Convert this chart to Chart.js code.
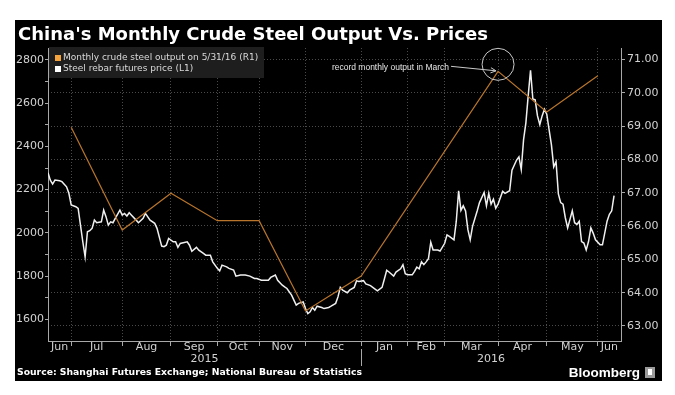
<!DOCTYPE html>
<html>
<head>
<meta charset="utf-8">
<script src="https://cdn.jsdelivr.net/npm/chart.js@4.4.1/dist/chart.umd.min.js"></script>
<style>
  html, body { margin: 0; padding: 0; background: #fff; }
</style>
</head>
<body>
<canvas id="myChart" width="675" height="395"></canvas>
<script>
const months = ["Jun", "Jul", "Aug", "Sep", "Oct", "Nov", "Dec", "Jan", "Feb", "Mar", "Apr", "May", "Jun"];
// trading days shown for each month (first and last are partial)
const monthDays = [10, 22, 21, 20, 18, 20, 24, 20, 16, 23, 21, 22, 10];
const years = ["2015", "2016"];
const yearFirstMonth = [0, 7];

const leftTicks = [1600, 1700, 1800, 1900, 2000, 2100, 2200, 2300, 2400, 2500, 2600, 2700, 2800];
const rightTicks = [63, 64, 65, 66, 67, 68, 69, 70, 71];

// steel rebar futures price (L1), by trading day
const priceDays = [0,1,2,3,5,6,8,9,10,12,13,14,15,16,17,18,19,20,21,23,24,25,26,27,28,29,31,32,33,34,35,36,38,39,41,42,44,46,47,49,
  50,51,52,54,55,56,57,60,61,62,64,65,67,68,70,71,73,74,75,77,78,80,81,83,85,87,89,90,92,93,95,96,98,99,
  101,102,103,105,106,107,108,110,111,112,113,114,115,116,118,119,121,122,124,125,126,127,129,130,132,133,134,136,137,139,
  141,142,144,145,146,147,149,150,152,153,154,155,157,158,159,160,161,162,163,164,165,166,168,169,171,172,173,175,176,177,
  178,179,180,181,182,183,185,186,188,189,190,191,192,193,194,196,197,199,200,202,203,204,205,206,207,208,209,210,211,212,
  213,214,215,216,217,218,219,220,221,222,223,224,226,227,228,229,230,231,232,233,234,235,236,238,239,241,242,243,244];
const prices = [2278,2244,2226,2244,2241,2237,2213,2183,2129,2121,2113,2036,1959,1889,2005,2010,2021,2059,2047,2051,2105,2075,2036,2051,2047,2067,2105,2082,2090,2078,2093,2082,2059,2047,2067,2090,2059,2044,2021,1939,
  1936,1943,1974,1959,1959,1933,1951,1959,1943,1915,1933,1920,1905,1897,1897,1866,1836,1824,1851,1843,1836,1828,1800,1805,1805,1800,1789,1789,1781,1781,1781,1794,1805,1781,
  1758,1750,1743,1712,1689,1666,1674,1681,1650,1627,1635,1655,1642,1661,1655,1650,1655,1661,1674,1704,1748,1735,1723,1735,1748,1778,1775,1779,1764,1756,
  1740,1732,1748,1787,1827,1819,1800,1819,1834,1853,1811,1806,1806,1822,1842,1834,1866,1853,1866,1881,1957,1921,1921,1916,1952,1991,1984,1968,2054,2195,
  2104,2125,2101,2015,1968,2030,2101,2140,2187,2125,2183,2133,2156,2114,2133,2192,2183,2195,2290,2337,2352,2293,2431,2509,2635,2752,2619,2615,2541,2501,
  2541,2572,2549,2478,2408,2305,2329,2180,2140,2133,2070,2023,2102,2047,2039,2054,1960,1953,1921,1960,2023,1999,1968,1945,1945,2054,2086,2102,2172];

// monthly crude steel output (R1), plotted at month end
const outputMonthIndex = [0, 1, 2, 3, 4, 5, 6, 9, 10, 11];
const outputValues = [68.96, 65.88, 66.98, 66.16, 66.16, 63.45, 64.5, 70.64, 69.42, 70.51];

const labelOutput = "Monthly crude steel output on 5/31/16 (R1)";
const labelPrice = "Steel rebar futures price (L1)";
const noteText = "record monthly output in March";
const noteIndex = 7;

const monthEnds = [];
monthDays.reduce((acc, d) => { monthEnds.push(acc + d); return acc + d; }, 0);
const totalDays = monthEnds[monthEnds.length - 1];

const axisFont = { family: "DejaVu Sans", size: 11 };
const axisText = "#d2d2d2";
const gridColor = "#4a4a4a";
const lineGray = "#a8a8a8";

const decorations = {
    id: "decorations",
    beforeDraw(chart) {
        const ctx = chart.ctx;
        ctx.save();
        ctx.fillStyle = "#fff";
        ctx.fillRect(0, 0, chart.width, chart.height);
        ctx.fillStyle = "#000";
        ctx.fillRect(15, 20, 647, 361);
        ctx.restore();
    },
    afterDraw(chart) {
        const ctx = chart.ctx;
        const x = chart.scales.x;
        ctx.save();

        // title
        ctx.fillStyle = "#fff";
        ctx.font = "bold 18px 'DejaVu Sans'";
        ctx.textBaseline = "alphabetic";
        ctx.textAlign = "left";
        ctx.fillText("China's Monthly Crude Steel Output Vs. Prices", 18, 40);

        // legend
        ctx.fillStyle = "#1e1e1e";
        ctx.fillRect(49, 47, 215, 31);
        ctx.font = "9px 'DejaVu Sans'";
        ctx.textBaseline = "middle";
        [[labelOutput, "#f5a33c"], [labelPrice, "#ffffff"]].forEach((item, i) => {
            const cy = 58 + i * 11;
            ctx.fillStyle = item[1];
            ctx.fillRect(55, cy - 3, 6, 6);
            ctx.fillStyle = "#dadada";
            ctx.fillText(item[0], 63, cy);
        });

        // month and year labels
        ctx.fillStyle = axisText;
        ctx.font = "11px 'DejaVu Sans'";
        ctx.textAlign = "center";
        let start = 0;
        months.forEach((m, i) => {
            const mid = (start + monthEnds[i]) / 2;
            ctx.fillText(m, x.getPixelForValue(mid), 347);
            start = monthEnds[i];
        });
        years.forEach((y, i) => {
            const a = yearFirstMonth[i] === 0 ? 0 : monthEnds[yearFirstMonth[i] - 1];
            const b = i + 1 < years.length ? monthEnds[yearFirstMonth[i + 1] - 1] : totalDays;
            ctx.fillText(y, x.getPixelForValue((a + b) / 2), 359);
        });
        const sep = Math.round(x.getPixelForValue(monthEnds[yearFirstMonth[1] - 1])) + 0.5;
        ctx.strokeStyle = lineGray;
        ctx.lineWidth = 1;
        ctx.beginPath();
        ctx.moveTo(sep, 349);
        ctx.lineTo(sep, 366);
        ctx.stroke();

        // source and logo
        ctx.textAlign = "left";
        ctx.fillStyle = "#fff";
        ctx.font = "bold 9.25px 'DejaVu Sans'";
        ctx.fillText("Source: Shanghai Futures Exchange; National Bureau of Statistics", 17, 373);
        ctx.font = "bold 13.5px 'Liberation Sans'";
        ctx.textAlign = "right";
        ctx.fillText("Bloomberg", 640, 373);
        ctx.fillStyle = "#9a9a9a";
        ctx.fillRect(645, 367, 10, 11);
        ctx.fillStyle = "#fff";
        ctx.fillRect(648, 369, 4, 6);

        // annotation on March output
        const pt = chart.getDatasetMeta(0).data[noteIndex];
        ctx.strokeStyle = "#c8c8c8";
        ctx.beginPath();
        ctx.arc(pt.x, pt.y - 7, 16, 0, Math.PI * 2);
        ctx.stroke();
        ctx.fillStyle = "#e6e6e6";
        ctx.font = "8.5px 'Liberation Sans'";
        ctx.textAlign = "right";
        ctx.fillText(noteText, pt.x - 49, pt.y - 4);
        const ax = pt.x - 47, ay = pt.y - 5, bx = pt.x - 2, by = pt.y - 0.5;
        ctx.beginPath();
        ctx.moveTo(ax, ay);
        ctx.lineTo(bx, by);
        ctx.stroke();
        const ang = Math.atan2(by - ay, bx - ax);
        ctx.beginPath();
        ctx.moveTo(bx - 6 * Math.cos(ang - 0.45), by - 6 * Math.sin(ang - 0.45));
        ctx.lineTo(bx, by);
        ctx.lineTo(bx - 6 * Math.cos(ang + 0.45), by - 6 * Math.sin(ang + 0.45));
        ctx.stroke();

        ctx.restore();
    }
};

var ctx = document.getElementById("myChart").getContext("2d");
var myChart = new Chart(ctx, {
    type: "line",
    data: {
        datasets: [
            {
                label: labelOutput,
                data: outputMonthIndex.map((m, i) => ({ x: monthEnds[m], y: outputValues[i] })),
                borderColor: "#b9752b",
                borderWidth: 1.2,
                yAxisID: "yR",
                pointRadius: 0,
                tension: 0
            },
            {
                label: labelPrice,
                data: priceDays.map((d, i) => ({ x: d, y: prices[i] })),
                borderColor: "#f0f0f0",
                borderWidth: 1.5,
                yAxisID: "yL",
                pointRadius: 0,
                tension: 0
            }
        ]
    },
    options: {
        responsive: false,
        animation: false,
        layout: { padding: { top: 48, left: 0, right: 0, bottom: 0 } },
        plugins: { legend: { display: false }, tooltip: { enabled: false } },
        scales: {
            x: {
                type: "linear",
                min: 0,
                max: totalDays,
                afterBuildTicks: s => { s.ticks = monthEnds.slice(0, -1).map(v => ({ value: v })); },
                afterFit: s => { s.height = 54; },
                ticks: { display: false },
                grid: { color: gridColor, tickColor: lineGray, tickLength: 5 },
                border: { color: lineGray, dash: [1, 2] }
            },
            yL: {
                position: "left",
                min: 1500,
                max: 2855,
                afterBuildTicks: s => { s.ticks = leftTicks.map(v => ({ value: v })); },
                afterFit: s => { s.width = 48; },
                ticks: {
                    callback: v => (v % 200 === 0 ? String(v) : ""),
                    color: axisText,
                    font: axisFont,
                    padding: 1
                },
                grid: { drawOnChartArea: false, tickLength: 3, tickColor: lineGray },
                border: { color: lineGray }
            },
            yR: {
                position: "right",
                min: 62.55,
                max: 71.34,
                afterBuildTicks: s => { s.ticks = rightTicks.map(v => ({ value: v })); },
                afterFit: s => { s.width = 54; },
                ticks: {
                    callback: v => v.toFixed(2),
                    color: axisText,
                    font: axisFont,
                    padding: 2
                },
                grid: { color: gridColor, tickLength: 4, tickColor: lineGray },
                border: { color: lineGray, dash: [1, 2] }
            }
        }
    },
    plugins: [decorations]
});
</script>
</body>
</html>
